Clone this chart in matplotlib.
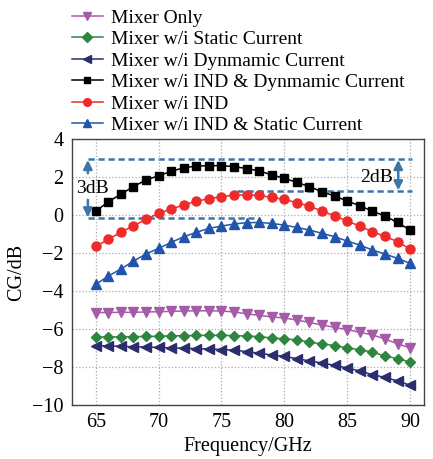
import matplotlib
matplotlib.use('Agg')
import matplotlib.pyplot as plt
import numpy as np

plt.rcParams['font.family'] = ['Liberation Serif', 'DejaVu Serif']

# frequency points (GHz)
freq = np.arange(65, 91)

mixer_only = [-5.13, -5.13, -5.12, -5.12, -5.10, -5.09, -5.07, -5.05, -5.04, -5.04,
              -5.05, -5.10, -5.20, -5.28, -5.36, -5.42, -5.53, -5.65, -5.79, -5.91,
              -6.03, -6.17, -6.31, -6.52, -6.78, -6.99]
static_cur = [-6.42, -6.42, -6.41, -6.40, -6.39, -6.38, -6.36, -6.35, -6.34, -6.33,
              -6.33, -6.35, -6.37, -6.40, -6.47, -6.52, -6.57, -6.69, -6.78, -6.87,
              -6.99, -7.09, -7.21, -7.42, -7.56, -7.74]
dyn_cur = [-6.87, -6.89, -6.91, -6.93, -6.95, -6.97, -6.99, -7.01, -7.03, -7.05,
           -7.08, -7.11, -7.19, -7.27, -7.37, -7.44, -7.56, -7.68, -7.79, -7.91,
           -8.05, -8.21, -8.40, -8.55, -8.73, -8.96]
ind_dyn = [0.20, 0.70, 1.10, 1.50, 1.85, 2.07, 2.30, 2.49, 2.58, 2.60,
           2.60, 2.55, 2.45, 2.32, 2.12, 1.93, 1.72, 1.49, 1.23, 1.00,
           0.74, 0.49, 0.21, -0.05, -0.39, -0.79]
ind_only = [-1.65, -1.28, -0.90, -0.57, -0.22, 0.09, 0.32, 0.53, 0.73, 0.86,
            0.97, 1.05, 1.07, 1.03, 0.93, 0.82, 0.65, 0.47, 0.21, -0.04,
            -0.32, -0.58, -0.88, -1.12, -1.40, -1.79]
ind_static = [-3.65, -3.21, -2.84, -2.42, -2.05, -1.75, -1.44, -1.14, -0.91, -0.70,
              -0.58, -0.47, -0.40, -0.39, -0.44, -0.53, -0.65, -0.79, -0.96, -1.14,
              -1.37, -1.58, -1.84, -2.05, -2.28, -2.54]

labels = ['Mixer Only', 'Mixer w/i Static Current', 'Mixer w/i Dynmamic Current',
          'Mixer w/i IND & Dynmamic Current', 'Mixer w/i IND',
          'Mixer w/i IND & Static Current']

fig = plt.figure(figsize=(4.33, 4.59), dpi=100)
ax = fig.add_axes([0.166, 0.1176, 0.813, 0.5794])

lw = 1.1
ax.plot(freq, mixer_only, color='#A55CA8', marker='v', ms=7, lw=lw, label=labels[0])
ax.plot(freq, static_cur, color='#2E8540', marker='D', ms=5.5, lw=lw, label=labels[1])
ax.plot(freq, dyn_cur, color='#2B2D6E', marker='<', ms=7, lw=lw, label=labels[2])
ax.plot(freq, ind_dyn, color='black', marker='s', ms=5.5, lw=lw, label=labels[3])
ax.plot(freq, ind_only, color='#EE2A2A', marker='o', ms=6.5, lw=lw, label=labels[4])
ax.plot(freq, ind_static, color='#2255AA', marker='^', ms=7, lw=lw, label=labels[5])

# annotation lines and arrows
dc = '#3E75A8'
dash = (0, (2.5, 1.5))
ax.plot([64.37, 90.17], [2.95, 2.95], ls=dash, color=dc, lw=1.8, zorder=1)
ax.plot([64.37, 77.6], [-0.18, -0.18], ls=dash, color=dc, lw=1.8, zorder=1)
ax.plot([76.24, 90.17], [1.26, 1.26], ls=dash, color=dc, lw=1.8, zorder=1)
arw = dict(arrowstyle='-|>', color=dc, lw=1.8, mutation_scale=13, shrinkA=0, shrinkB=0)
ax.annotate('', xy=(64.37, 2.9), xytext=(64.37, 2.2), arrowprops=arw)
ax.annotate('', xy=(64.37, -0.12), xytext=(64.37, 0.8), arrowprops=arw)
ax.annotate('', xy=(89.06, 2.9), xytext=(89.06, 1.3),
            arrowprops=dict(arrowstyle='<|-|>', color=dc, lw=1.8, mutation_scale=13,
                            shrinkA=0, shrinkB=0))
ax.text(64.77, 1.42, '3dB', fontsize=14, ha='center', va='center')
ax.text(87.3, 2.0, '2dB', fontsize=14, ha='center', va='center')

ax.set_xlim(63.1, 91.1)
ax.set_ylim(-10, 4)
ax.set_xticks([65, 70, 75, 80, 85, 90])
ax.set_yticks([-10, -8, -6, -4, -2, 0, 2, 4])
ax.tick_params(length=0, labelsize=14.5, pad=6)
ax.grid(True, ls=':', color='#aaaaaa', lw=0.9)
for s in ax.spines.values():
    s.set_color('#444444')
    s.set_linewidth(1.0)

ax.set_xlabel('Frequency/GHz', fontsize=14.5, labelpad=3)
ax.set_ylabel('CG/dB', fontsize=14.5, labelpad=4)

ax.legend(loc='upper left', bbox_to_anchor=(0.166, 0.98), bbox_transform=fig.transFigure,
          frameon=False, fontsize=14, handlelength=1.6, handletextpad=0.4,
          labelspacing=0.2, borderpad=0, borderaxespad=0, markerscale=0.85)

fig.savefig('out.png', dpi=100)
